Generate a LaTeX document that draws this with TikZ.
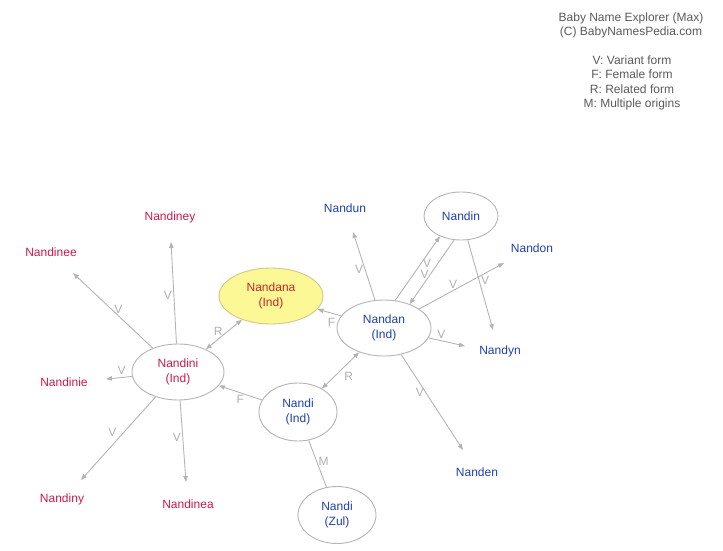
\documentclass[tikz,border=0pt]{standalone}
\usepackage{fontspec}
\setmainfont{Liberation Sans}
\usetikzlibrary{shapes.geometric,arrows.meta}

\definecolor{edgegrey}{RGB}{180,180,180}
\definecolor{labelgrey}{RGB}{175,175,175}
\definecolor{textgrey}{RGB}{90,90,90}
\definecolor{femred}{RGB}{205,25,75}
\definecolor{malblue}{RGB}{30,65,170}
\definecolor{mainred}{RGB}{200,40,40}
\definecolor{mainfill}{RGB}{252,248,150}
\definecolor{mainrim}{RGB}{205,200,135}

\begin{document}
\begin{tikzpicture}[x=1pt,y=-1pt,
	font=\fontsize{12}{14.5}\selectfont,
	namebox/.style={ellipse,draw=edgegrey,line width=0.9pt,fill=white,inner sep=0pt,align=center},
	fem/.style={text=femred},
	mal/.style={text=malblue},
	link/.style={draw=edgegrey,line width=0.9pt},
	tip/.style={link,-{Triangle[length=6pt,width=4.5pt]}},
	both/.style={link,{Triangle[length=6pt,width=4.5pt]}-{Triangle[length=6pt,width=4.5pt]}},
	lbl/.style={text=labelgrey,inner sep=1.5pt}]

	\useasboundingbox (0,0) rectangle (723,551);

	% header and legend
	\node[text=textgrey,align=center,font=\fontsize{12}{14}\selectfont] (head) at (631,25) {Baby Name Explorer (Max)\\(C) BabyNamesPedia.com};
	\node[text=textgrey,align=center] (legend) at (632,83) {V: Variant form\\F: Female form\\R: Related form\\M: Multiple origins};

	% name ellipses
	\node[namebox,fill=mainfill,draw=mainrim,text=mainred,minimum width=104,minimum height=56] (nandana) at (271,296) {Nandana\\(Ind)};
	\node[namebox,mal,minimum width=94,minimum height=56] (nandan) at (384,328) {Nandan\\(Ind)};
	\node[namebox,fem,minimum width=92,minimum height=56] (nandini) at (178,372) {Nandini\\(Ind)};
	\node[namebox,mal,minimum width=78,minimum height=58] (nandi) at (298,412) {Nandi\\(Ind)};
	\node[namebox,mal,minimum width=78,minimum height=57] (nandizul) at (337,515) {Nandi\\(Zul)};
	\node[namebox,mal,minimum width=74,minimum height=48] (nandin) at (461,216) {Nandin};

	% variant names
	\node[fem] (nandiney) at (170,217) {Nandiney};
	\node[fem] (nandinee) at (51,252) {Nandinee};
	\node[fem] (nandinie) at (64,382) {Nandinie};
	\node[fem] (nandiny) at (62,499) {Nandiny};
	\node[fem] (nandinea) at (188,504) {Nandinea};
	\node[mal] (nandun) at (345,208) {Nandun};
	\node[mal] (nandon) at (532,248) {Nandon};
	\node[mal] (nandyn) at (500,351) {Nandyn};
	\node[mal] (nanden) at (477,472) {Nanden};

	% arrow ends
	\coordinate (eNandiney) at (171,242);
	\coordinate (eNandinee) at (73,273);
	\coordinate (eNandinie) at (106,379);
	\coordinate (eNandiny) at (81,480);
	\coordinate (eNandinea) at (186,482);
	\coordinate (eNandun) at (353,232);
	\coordinate (eNandon) at (504,263);
	\coordinate (eNandynA) at (493,330);
	\coordinate (eNandynB) at (465,346);
	\coordinate (eNanden) at (463,450);

	% nandini variants
	\draw[tip] (nandini) -- (eNandiney) node[lbl,pos=.47,left] {V};
	\draw[tip] (nandini) -- (eNandinee) node[lbl,pos=.43,above] {V};
	\draw[tip] (nandini) -- (eNandinie) node[lbl,pos=.4,above,yshift=1pt] {V};
	\draw[tip] (nandini) -- (eNandiny) node[lbl,pos=.5,above left] {V};
	\draw[tip] (nandini) -- (eNandinea) node[lbl,pos=.45,left] {V};

	% relations around nandana
	\draw[both] (nandini) -- (nandana) node[lbl,pos=.4,above,xshift=-2pt] {R};
	\draw[tip] (nandi) -- (nandini) node[lbl,pos=.5,below] {F};
	\draw[tip] (nandan) -- (nandana) node[lbl,pos=.4,below,yshift=-3pt] {F};
	\draw[both] (nandan) -- (nandi) node[lbl,pos=.45,below right,yshift=-2pt] {R};
	\draw[link] (nandi) -- (nandizul) node[lbl,pos=.45,right] {M};

	% nandan variants
	\draw[tip] (nandan) -- (eNandun) node[lbl,pos=.45,left] {V};
	\draw[tip] (nandan.68) -- (nandin.224) node[lbl,pos=.58,right] {V};
	\draw[tip] (nandin.254) -- (nandan.43) node[lbl,pos=.53,left] {V};
	\draw[tip] (nandan) -- (eNandon) node[lbl,pos=.4,above] {V};
	\draw[tip] (nandin) -- (eNandynA) node[lbl,pos=.45,right] {V};
	\draw[tip] (nandan) -- (eNandynB) node[lbl,pos=.35,above] {V};
	\draw[tip] (nandan) -- (eNanden) node[lbl,pos=.4,left] {V};

\end{tikzpicture}
\end{document}
